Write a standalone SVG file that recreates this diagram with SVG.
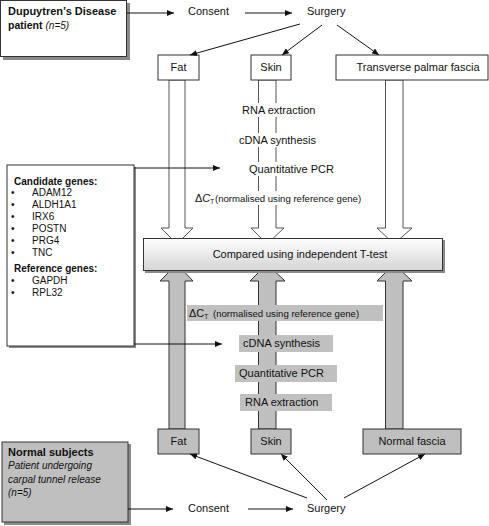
<svg xmlns="http://www.w3.org/2000/svg" width="489" height="526" viewBox="0 0 489 526">
<style>
text{font-family:"Liberation Sans",Arial,sans-serif;font-size:11px;fill:#111}
.b{font-weight:bold}
.i{font-style:italic}
.sm{font-size:10px}
.dc{font-size:9.6px}
.box{fill:#fff;stroke:#333;stroke-width:1}
.gbox{fill:#bfbfbf;stroke:#333;stroke-width:1}
.sh{fill:#8a8a8a}
.hollow{fill:#fff;stroke:#555;stroke-width:1}
.solid{fill:#bfbfbf;stroke:#333;stroke-width:1}
.con{stroke:#111;stroke-width:1;fill:none;marker-end:url(#ah)}
.lbl{fill:#c0c0c0}
</style>
<defs>
<marker id="ah" markerWidth="7" markerHeight="6" refX="7" refY="3" orient="auto" markerUnits="userSpaceOnUse">
<path d="M0,0 L7,3 L0,6 z" fill="#111"/>
</marker>
<linearGradient id="cg" x1="0" y1="0" x2="0" y2="1">
<stop offset="0" stop-color="#ffffff"/>
<stop offset="1" stop-color="#d4d4d4"/>
</linearGradient>
</defs>

<g id="flows">
<polygon class="hollow" points="169,80 169,228 161,228 177,244 193,228 185,228 185,80"/>
<polygon class="hollow" points="258.5,80 258.5,228 251,228 267,244 284,228 276,228 276,80"/>
<polygon class="hollow" points="385.5,80 385.5,228 377,228 394,244 412,228 403,228 403,80"/>
<polygon class="solid" points="169,429 169,281 160,281 177,264 193,281 185,281 185,429"/>
<polygon class="solid" points="258.5,429 258.5,281 250,281 267,264 285,281 276,281 276,429"/>
<polygon class="solid" points="385.5,429 385.5,281 377,281 394,264 412,281 403,281 403,429"/>
</g>

<g id="dd-patient">
<rect class="sh" x="3" y="3" width="127" height="57"/>
<rect class="box" x="0.5" y="0.5" width="126" height="56"/>
<text class="b" x="8" y="15" font-size="10.5">Dupuytren’s Disease</text>
<text x="8" y="28.5"><tspan class="b" font-size="10.5">patient</tspan> <tspan class="i sm">(n=5)</tspan></text>
</g>

<g id="consent-top"><text x="188" y="14.5">Consent</text></g>
<g id="surgery-top"><text x="307" y="15">Surgery</text></g>

<g id="fat-top"><rect class="box" x="158" y="55" width="41" height="25"/><text x="178.5" y="71" text-anchor="middle">Fat</text></g>
<g id="skin-top"><rect class="box" x="251" y="55" width="40" height="25"/><text x="271" y="71" text-anchor="middle">Skin</text></g>
<g id="tpf-top"><rect class="box" x="336" y="55" width="152" height="25"/><text x="418" y="71" text-anchor="middle">Transverse palmar fascia</text></g>

<g id="upper-steps">
<rect fill="#fff" x="240" y="103" width="76" height="14"/>
<text x="242" y="114">RNA extraction</text>
<rect fill="#fff" x="237" y="133" width="71" height="14"/>
<text x="239" y="144">cDNA synthesis</text>
<rect fill="#fff" x="247" y="162" width="87" height="14"/>
<text x="249" y="173">Quantitative PCR</text>
<rect fill="#fff" x="193" y="191" width="170" height="14"/>
<text x="195" y="202" font-size="9.5">Δ<tspan class="i">C</tspan><tspan font-size="6.5" dy="2">T</tspan></text>
<text class="dc" x="215" y="202">(normalised using reference gene)</text>
</g>

<g id="genes">
<rect class="sh" x="9" y="167" width="127" height="181"/>
<rect class="box" x="7" y="165" width="127" height="181"/>
<text class="b sm" x="14" y="185">Candidate genes:</text>
<text class="sm" x="11" y="196">•</text><text class="sm" x="32" y="196">ADAM12</text>
<text class="sm" x="11" y="208">•</text><text class="sm" x="32" y="208">ALDH1A1</text>
<text class="sm" x="11" y="220">•</text><text class="sm" x="32" y="220">IRX6</text>
<text class="sm" x="11" y="232">•</text><text class="sm" x="32" y="232">POSTN</text>
<text class="sm" x="11" y="244">•</text><text class="sm" x="32" y="244">PRG4</text>
<text class="sm" x="11" y="256">•</text><text class="sm" x="32" y="256">TNC</text>
<text class="b sm" x="14" y="272">Reference genes:</text>
<text class="sm" x="11" y="284">•</text><text class="sm" x="32" y="284">GAPDH</text>
<text class="sm" x="11" y="296">•</text><text class="sm" x="32" y="296">RPL32</text>
</g>

<g id="compare">
<rect class="sh" x="145" y="240" width="300" height="33"/>
<rect x="143.5" y="238.5" width="299" height="32" fill="url(#cg)" stroke="#333"/>
<text x="300" y="258" text-anchor="middle">Compared using independent T-test</text>
</g>

<g id="lower-steps">
<rect class="lbl" x="187" y="305" width="196" height="16"/>
<text x="189" y="317" font-size="9.5">ΔC<tspan font-size="6.5" dy="2">T</tspan></text>
<text class="dc" x="213" y="317">(normalised using reference gene)</text>
<rect class="lbl" x="239" y="335" width="94" height="17"/>
<text x="243" y="347">cDNA synthesis</text>
<rect class="lbl" x="235" y="365" width="102" height="17"/>
<text x="239" y="377">Quantitative PCR</text>
<rect class="lbl" x="240" y="394" width="92" height="17"/>
<text x="245" y="406">RNA extraction</text>
</g>

<g id="fat-bottom"><rect class="gbox" x="158" y="429" width="41" height="25"/><text x="178.5" y="445" text-anchor="middle">Fat</text></g>
<g id="skin-bottom"><rect class="gbox" x="251" y="429" width="40" height="25"/><text x="271" y="445" text-anchor="middle">Skin</text></g>
<g id="nf-bottom"><rect class="gbox" x="363" y="429" width="98" height="25"/><text x="412" y="445" text-anchor="middle">Normal fascia</text></g>

<g id="normal-subjects">
<rect class="sh" x="4" y="444" width="127" height="81"/>
<rect class="gbox" x="2" y="442" width="126" height="80"/>
<text class="b" x="8" y="456" font-size="10.5">Normal subjects</text>
<text class="i sm" x="8" y="469">Patient undergoing</text>
<text class="i sm" x="8" y="483">carpal tunnel release</text>
<text class="i sm" x="8" y="496">(n=5)</text>
</g>

<g id="consent-bottom"><text x="188" y="512">Consent</text></g>
<g id="surgery-bottom"><text x="307" y="512">Surgery</text></g>

<g id="connectors">
<line class="con" x1="127" y1="13" x2="174" y2="13"/>
<line class="con" x1="245" y1="13" x2="292" y2="13"/>
<line class="con" x1="300" y1="24" x2="190" y2="55"/>
<line class="con" x1="322" y1="25" x2="282" y2="55"/>
<line class="con" x1="337" y1="25" x2="379" y2="55"/>
<line class="con" x1="134" y1="168" x2="220" y2="168"/>
<line class="con" x1="134" y1="344" x2="222" y2="344"/>
<line class="con" x1="128" y1="509" x2="173" y2="509"/>
<line class="con" x1="248" y1="509" x2="293" y2="509"/>
<line class="con" x1="307" y1="498" x2="190" y2="454"/>
<line class="con" x1="327" y1="500" x2="281" y2="454"/>
<line class="con" x1="344" y1="498" x2="425" y2="454"/>
</g>
</svg>
